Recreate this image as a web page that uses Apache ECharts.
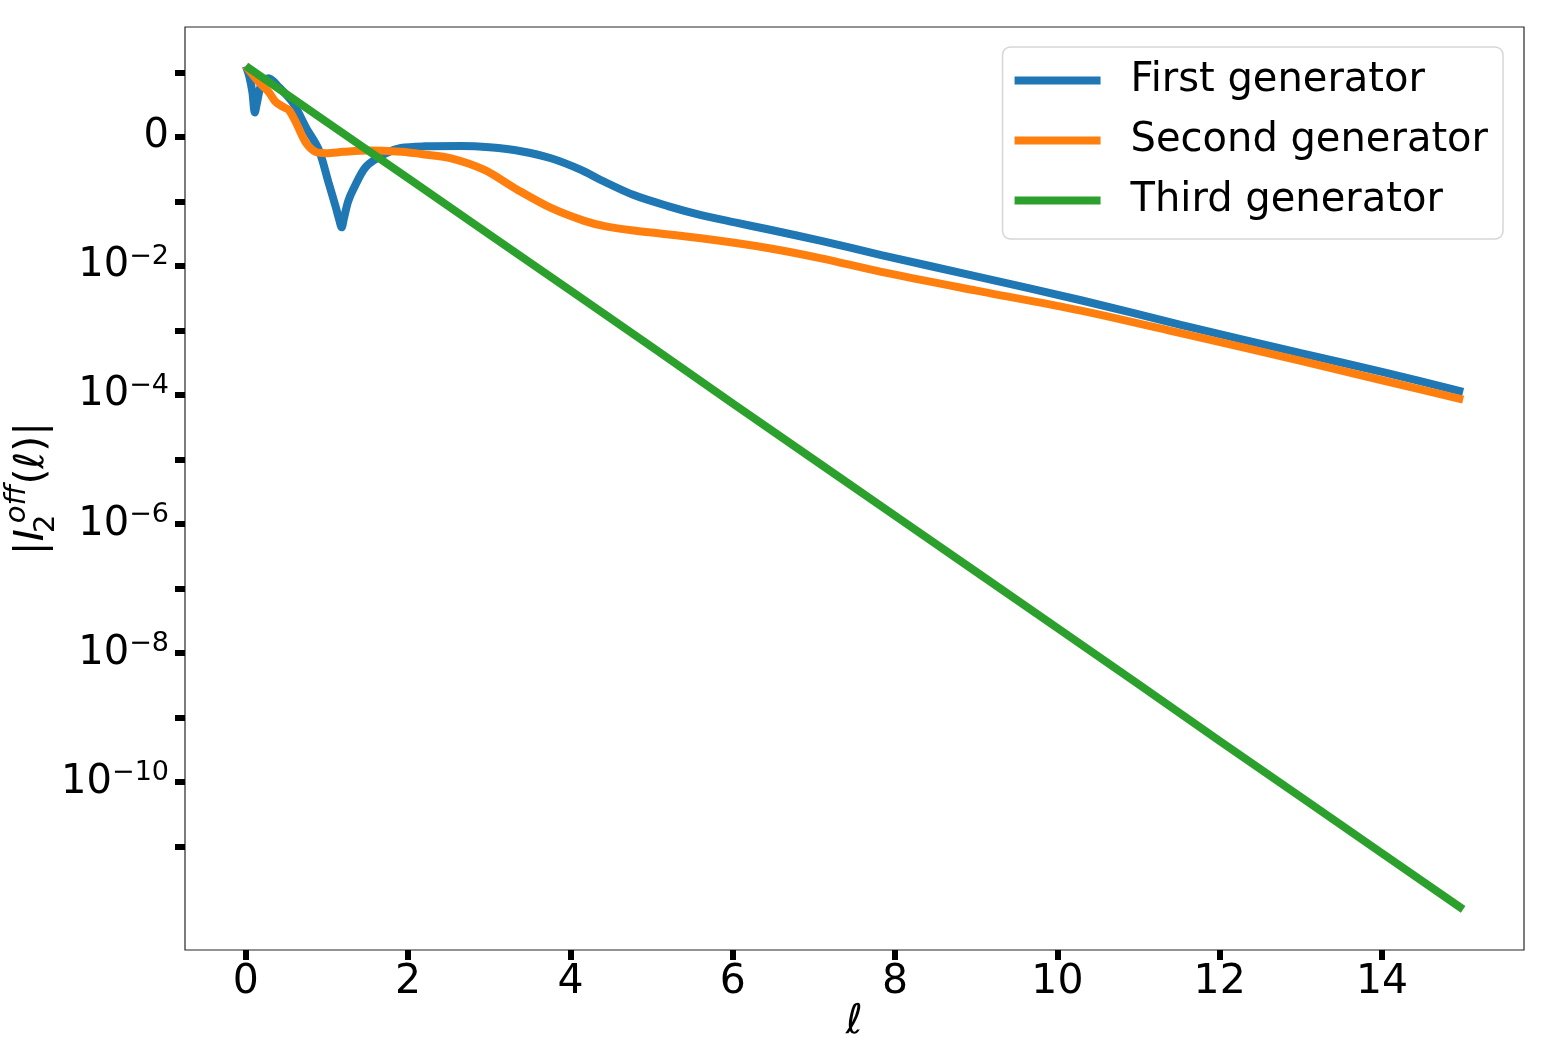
<!DOCTYPE html>
<html>
<head>
<meta charset="utf-8">
<script src="https://cdn.jsdelivr.net/npm/echarts@6/dist/echarts.min.js"></script>
<style>html,body{margin:0;padding:0;background:#fff;}#main{width:1551px;height:1043px;}</style>
</head>
<body>
<div id="main"></div>
<script>
const seriesNames = ['First generator', 'Second generator', 'Third generator'];

const xFirst = [0, 0.04, 0.08, 0.11, 0.14, 0.18, 0.23, 0.28, 0.41, 0.58, 0.74, 0.9, 1.02, 1.1, 1.15, 1.18, 1.21, 1.26, 1.32, 1.48, 1.73, 1.91, 2.2, 2.65, 3.0, 3.39, 3.76, 4.13, 4.38, 4.78, 5.2, 5.61, 6.01, 6.43, 7.09, 7.83, 9.0, 10.29, 11.52, 13.0, 14.0, 15.0];
const expFirst = [1.1, 0.95, 0.7, 0.38, 0.55, 0.78, 0.88, 0.91, 0.77, 0.53, 0.15, -0.2, -0.71, -1.05, -1.28, -1.4, -1.25, -1.0, -0.82, -0.46, -0.25, -0.17, -0.145, -0.14, -0.16, -0.22, -0.33, -0.51, -0.67, -0.9, -1.07, -1.21, -1.32, -1.43, -1.61, -1.83, -2.16, -2.53, -2.91, -3.35, -3.64, -3.95];

const xSecond = [0, 0.16, 0.28, 0.37, 0.47, 0.53, 0.62, 0.74, 0.86, 0.99, 1.2, 1.5, 1.91, 2.2, 2.53, 2.94, 3.35, 3.76, 4.17, 4.45, 4.78, 5.61, 6.43, 7.09, 7.83, 9.0, 10.29, 11.52, 13.0, 14.0, 15.0];
const expSecond = [1.1, 0.85, 0.70, 0.54, 0.46, 0.42, 0.22, -0.09, -0.23, -0.25, -0.23, -0.21, -0.23, -0.27, -0.33, -0.51, -0.82, -1.1, -1.3, -1.39, -1.45, -1.57, -1.72, -1.88, -2.09, -2.38, -2.69, -3.04, -3.47, -3.77, -4.07];

const xThird = [0, 1, 2, 3, 4, 5, 6, 7, 8, 9, 10, 11, 12, 13, 14, 15];
const expThird = [1.1, 0.23, -0.64, -1.51, -2.38, -3.25, -4.13, -5.0, -5.87, -6.74, -7.61, -8.48, -9.36, -10.23, -11.1, -11.97];

const xTicks = [0, 2, 4, 6, 8, 10, 12, 14];
const yTickExps = [1, 0, -1, -2, -3, -4, -5, -6, -7, -8, -9, -10, -11];
const yLabelExps = [0, -2, -4, -6, -8, -10];

const colors = ['#1f77b4', '#ff7f0e', '#2ca02c'];
const FONT = 'DejaVu Sans';

function pairs(xs, ys) { return xs.map((x, i) => [x, ys[i]]); }

const chart = echarts.init(document.getElementById('main'), null, {renderer: 'canvas'});
const option = {
  animation: false,
  backgroundColor: '#fff',
  textStyle: {fontFamily: FONT},
  grid: {left: 185, right: 27, top: 27, bottom: 93, show: true, borderColor: '#262626', borderWidth: 1.2, containLabel: false, outerBoundsMode: 'none'},
  legend: {
    data: seriesNames,
    right: 48, top: 47,
    orient: 'vertical',
    icon: 'rect',
    itemWidth: 86, itemHeight: 8,
    itemGap: 19,
    padding: [13, 15, 18, 12],
    backgroundColor: '#fff',
    borderColor: '#d6d6d6', borderWidth: 1.5, borderRadius: 8,
    textStyle: {fontFamily: FONT, fontSize: 40, color: '#000', lineHeight: 41, padding: [0, 0, 0, 25]}
  },
  xAxis: {
    type: 'value', min: -0.75, max: 15.75,
    splitLine: {show: false},
    axisLine: {show: false, onZero: false},
    axisTick: {show: true, length: 10, lineStyle: {width: 6, color: '#000'}, customValues: xTicks},
    axisLabel: {fontFamily: FONT, fontSize: 41, color: '#000', margin: 12, customValues: xTicks},
    name: 'ℓ', nameLocation: 'middle', nameGap: 52, nameMoveOverlap: false,
    nameTextStyle: {fontFamily: FONT, fontSize: 41, fontStyle: 'italic', color: '#000'}
  },
  yAxis: {
    type: 'value', min: -12.6, max: 1.705,
    splitLine: {show: false},
    axisLine: {show: false, onZero: false},
    axisTick: {show: true, length: 10, lineStyle: {width: 6, color: '#000'}, customValues: yTickExps},
    axisLabel: {
      fontFamily: FONT, fontSize: 40, color: '#000', margin: 16, customValues: yLabelExps,
      formatter: function (v) { return v === 0 ? '{m|0}' : '{m|10}{s|\u2212' + Math.abs(v) + '}'; },
      rich: {
        m: {fontFamily: FONT, fontSize: 40, lineHeight: 46, color: '#000'},
        s: {fontFamily: FONT, fontSize: 27, lineHeight: 27, color: '#000', verticalAlign: 'top'}
      }
    },
    name: '{m||}{i|I}{sub|2}{sup|off}{m|(}{i|ℓ}{m|)|}',
    nameLocation: 'middle', nameRotate: 90, nameGap: 124, nameMoveOverlap: false,
    nameTextStyle: {
      fontFamily: FONT, fontSize: 41, color: '#000',
      rich: {
        m: {fontFamily: FONT, fontSize: 41, lineHeight: 58, color: '#000'},
        i: {fontFamily: FONT, fontSize: 41, lineHeight: 58, fontStyle: 'italic', color: '#000'},
        sub: {fontFamily: FONT, fontSize: 29, lineHeight: 29, color: '#000', verticalAlign: 'bottom', width: 1, padding: [0, 0, 0, 5]},
        sup: {fontFamily: FONT, fontSize: 29, lineHeight: 29, fontStyle: 'italic', color: '#000', verticalAlign: 'top'}
      }
    }
  },
  series: [
    {name: seriesNames[0], type: 'line', data: pairs(xFirst, expFirst), showSymbol: false, smooth: 0.3, lineStyle: {width: 8, color: colors[0]}, itemStyle: {color: colors[0]}, z: 2},
    {name: seriesNames[1], type: 'line', data: pairs(xSecond, expSecond), showSymbol: false, smooth: 0.3, lineStyle: {width: 8, color: colors[1]}, itemStyle: {color: colors[1]}, z: 3},
    {name: seriesNames[2], type: 'line', data: pairs(xThird, expThird), showSymbol: false, smooth: false, lineStyle: {width: 8, color: colors[2]}, itemStyle: {color: colors[2]}, z: 4}
  ]
};
chart.setOption(option);
</script>
</body>
</html>
